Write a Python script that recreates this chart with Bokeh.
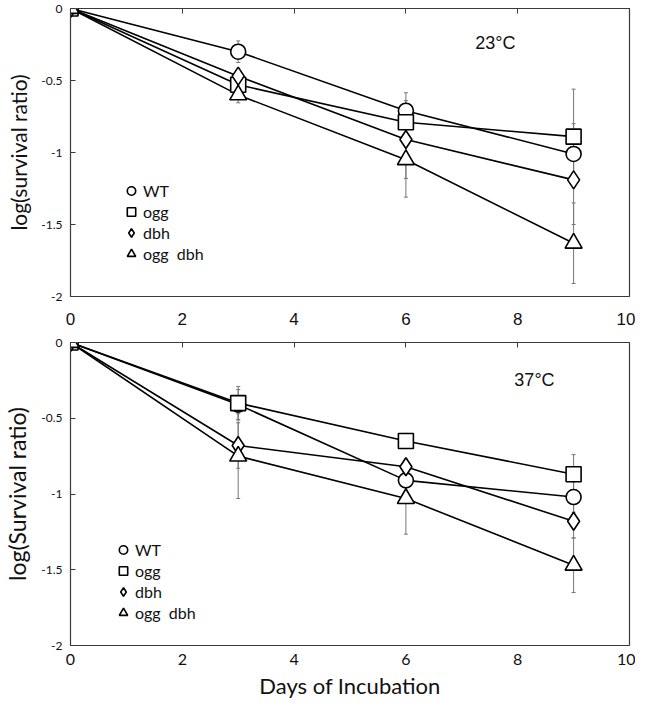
from bokeh.plotting import figure
from bokeh.models import (ColumnDataSource, Whisker, TeeHead, Range1d, FixedTicker,
                          LinearAxis, Legend, LegendItem, Label)
from bokeh.layouts import column
from bokeh.embed import file_html
from bokeh.resources import INLINE

# ---------------- data ----------------
days = [0, 3, 6, 9]
series_names = ["WT", "ogg", "dbh", "ogg  dbh"]
markers = ["circle", "square", "diamond", "triangle"]

wt_23 = [0, -0.30, -0.71, -1.01]
ogg_23 = [0, -0.53, -0.79, -0.89]
dbh_23 = [0, -0.47, -0.91, -1.19]
oggdbh_23 = [0, -0.60, -1.05, -1.63]
wt_23_err = [0, 0.075, 0.125, 0.21]
ogg_23_err = [0, 0.04, 0.05, 0.33]
dbh_23_err = [0, 0.04, 0.27, 0.31]
oggdbh_23_err = [0, 0.055, 0.26, 0.28]

wt_37 = [0, -0.41, -0.91, -1.02]
ogg_37 = [0, -0.40, -0.65, -0.87]
dbh_37 = [0, -0.68, -0.82, -1.18]
oggdbh_37 = [0, -0.75, -1.03, -1.47]
wt_37_err = [0, 0.10, 0.08, 0.10]
ogg_37_err = [0, 0.11, 0.05, 0.13]
dbh_37_err = [0, 0.15, 0.05, 0.11]
oggdbh_37_err = [0, 0.28, 0.235, 0.18]

x_ticks = [0, 2, 4, 6, 8, 10]
y_ticks = [0, -0.5, -1, -1.5, -2]
y_tick_labels = ["0", "-0.5", "-1", "-1.5", "-2"]

CAL = "Lato"
ARI = "Liberation Sans"
MARKER_SIZES = {"circle": 15, "square": 15, "diamond": 18, "triangle": 17}


def make_panel(vals, errs, ylabel, ylabel_size, temp, height, border_top, border_bottom,
               legend_loc, temp_xy, xfont, xsize, xstandoff, xlabel=None):
    p = figure(width=635, height=height, output_backend="svg", toolbar_location=None,
               x_range=Range1d(0, 10), y_range=Range1d(-2, 0),
               min_border_left=63, min_border_right=6,
               min_border_top=border_top, min_border_bottom=border_bottom)
    p.background_fill_color = "white"
    p.border_fill_color = "white"
    p.outline_line_color = "#3a3a3a"
    p.outline_line_width = 1.2
    p.xgrid.visible = False
    p.ygrid.visible = False

    # bottom x-axis: labels only
    xa = p.xaxis[0]
    xa.ticker = FixedTicker(ticks=x_ticks)
    xa.axis_line_color = None
    xa.major_tick_line_color = None
    xa.minor_tick_line_color = None
    xa.major_tick_in = 0
    xa.major_tick_out = 0
    xa.major_label_text_font = xfont
    xa.major_label_text_font_size = xsize
    xa.major_label_text_color = "#111111"
    xa.major_label_standoff = xstandoff
    if xlabel:
        xa.axis_label = xlabel
        xa.axis_label_text_font = CAL
        xa.axis_label_text_font_size = "22px"
        xa.axis_label_text_font_style = "normal"
        xa.axis_label_text_color = "#111111"
        xa.axis_label_standoff = 4

    # top axis: only tick marks pointing inwards
    top = LinearAxis(ticker=FixedTicker(ticks=x_ticks), major_label_text_color=None,
                     major_label_text_font_size="1px",
                     major_label_standoff=0, major_tick_in=5, major_tick_out=0,
                     major_tick_line_color="#3a3a3a", axis_line_color=None,
                     minor_tick_line_color=None)
    p.add_layout(top, "above")

    ya = p.yaxis[0]
    ya.ticker = FixedTicker(ticks=y_ticks)
    ya.major_label_overrides = {t: s for t, s in zip(y_ticks, y_tick_labels)}
    ya.axis_line_color = "#3a3a3a"
    ya.major_tick_in = 5
    ya.major_tick_out = 0
    ya.major_tick_line_color = "#3a3a3a"
    ya.minor_tick_line_color = None
    ya.major_label_text_font = CAL
    ya.major_label_text_font_size = "12px"
    ya.major_label_text_color = "#111111"
    ya.major_label_standoff = 8
    ya.axis_label = ylabel
    ya.axis_label_text_font = CAL
    ya.axis_label_text_font_size = ylabel_size
    ya.axis_label_text_font_style = "normal"
    ya.axis_label_text_color = "#111111"
    ya.axis_label_standoff = 7

    # error bars
    for v, e in zip(vals, errs):
        src = ColumnDataSource(dict(x=days, upper=[a + b for a, b in zip(v, e)],
                                    lower=[a - b for a, b in zip(v, e)]))
        w = Whisker(source=src, base="x", upper="upper", lower="lower",
                    line_color="#777777", line_width=1,
                    upper_head=TeeHead(size=4, line_color="#777777", line_width=1),
                    lower_head=TeeHead(size=4, line_color="#777777", line_width=1))
        p.add_layout(w)

    items = []
    for v in vals:
        p.line(days, v, line_color="black", line_width=1.6)
    for name, mk, v in zip(series_names, markers, vals):
        r = p.scatter(days, v, marker=mk, size=MARKER_SIZES[mk], fill_color="white",
                      line_color="black", line_width=1.6)
        items.append(LegendItem(label=name, renderers=[r]))

    leg = Legend(items=items, location=legend_loc, border_line_color=None,
                 background_fill_alpha=0, padding=0, margin=0, spacing=0,
                 glyph_width=22, glyph_height=21, label_standoff=1,
                 label_text_font=CAL, label_text_font_size="16px",
                 label_text_color="#111111", label_height=21)
    p.add_layout(leg)

    p.add_layout(Label(x=temp_xy[0], y=temp_xy[1], text=temp, text_font=ARI,
                       text_font_size="18px", text_color="#111111",
                       text_align="center", text_baseline="middle"))
    return p


p1 = make_panel([wt_23, ogg_23, dbh_23, oggdbh_23],
                [wt_23_err, ogg_23_err, dbh_23_err, oggdbh_23_err],
                "log(survival ratio)", "21px", "23°C", 332, 8, 36, (50, 32), (7.6, -0.24),
                ARI, "17px", 16)
p2 = make_panel([wt_37, ogg_37, dbh_37, oggdbh_37],
                [wt_37_err, ogg_37_err, dbh_37_err, oggdbh_37_err],
                "log(Survival ratio)", "23px", "37°C", 369, 10, 55, (42, 22), (8.3, -0.25),
                CAL, "16px", 8, xlabel="Days of Incubation")

layout = column(p1, p2, spacing=0)
open("out.html", "w").write(file_html(layout, INLINE))
